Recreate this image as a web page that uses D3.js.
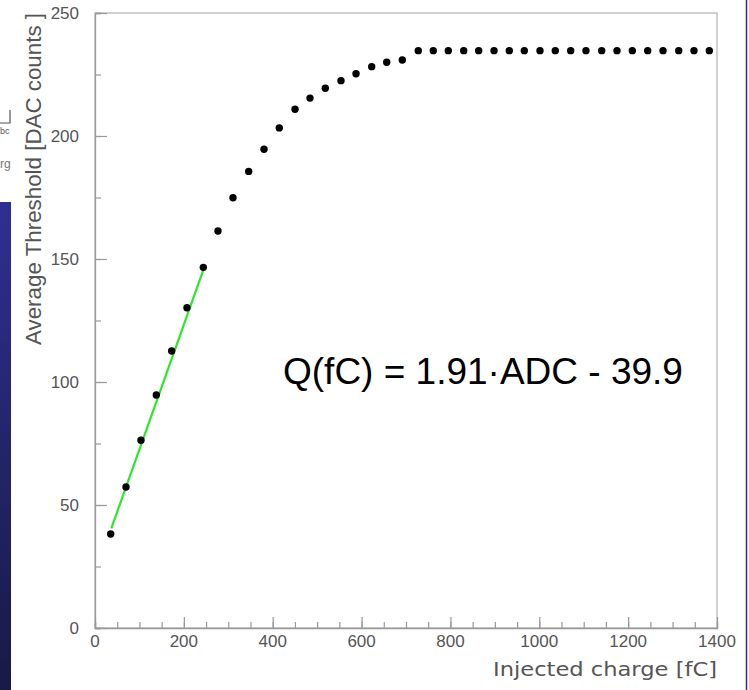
<!DOCTYPE html>
<html>
<head>
<meta charset="utf-8">
<script src="https://cdn.jsdelivr.net/npm/d3@7"></script>
<style>
  body { margin: 0; background: #fff; }
  svg { display: block; }
</style>
</head>
<body>
<div id="visual"></div>
<script>
// injected charge (fC) and average threshold (DAC counts)
let charge = [35.3, 69.8, 103.5, 138, 172.6, 207, 243.8, 276.8, 310.6, 345.9,
  380.4, 414.8, 450.2, 483.9, 518.4, 553.7, 587.5, 622.8, 656.6, 691.7,
  727.7, 761.4, 795.2, 829.9, 863.6, 898.1, 932.5, 966.3, 1001.6, 1036,
  1070.7, 1105.1, 1140.5, 1174.9, 1209.4, 1244, 1278.5, 1313.8, 1348.2, 1382.7]
let threshold = [38.2, 57.3, 76.3, 94.7, 112.6, 130.2, 146.6, 161.4, 174.9, 185.6,
  194.6, 203.3, 210.9, 215.4, 219.4, 222.5, 225.3, 228.2, 230.0, 230.9,
  234.7, 234.7, 234.7, 234.7, 234.7, 234.7, 234.7, 234.7, 234.7, 234.7,
  234.7, 234.7, 234.7, 234.7, 234.7, 234.7, 234.7, 234.7, 234.7, 234.7]

// linear fit line ends
let fitCharge = [36.7, 245.3]
let fitThreshold = [40.5, 146.3]

let xTicks = [0, 200, 400, 600, 800, 1000, 1200, 1400]
let yTicks = [0, 50, 100, 150, 200, 250]

let fitLabel = "Q(fC) = 1.91\u00b7ADC - 39.9"
let xTitle = "Injected charge [fC]"
let yTitle = "Average Threshold [DAC counts ]"

let dataset = charge.map((c, i) => ({ charge: c, threshold: threshold[i] }))

const width = 749, height = 690
const plot = { left: 95, right: 717, top: 13, bottom: 628 }

let scaleX = d3.scaleLinear().domain([0, 1400]).range([plot.left, plot.right])
let scaleY = d3.scaleLinear().domain([0, 250]).range([plot.bottom, plot.top])

const visual = d3.select("#visual")
  .append("svg")
  .attr("width", width)
  .attr("height", height)

// bits of the slide behind the plot
let grad = visual.append("defs").append("linearGradient")
  .attr("id", "side").attr("x1", 0).attr("y1", 0).attr("x2", 0).attr("y2", 1)
grad.append("stop").attr("offset", "0%").attr("stop-color", "#2f2f92")
grad.append("stop").attr("offset", "100%").attr("stop-color", "#191946")

visual.append("rect")
  .attr("x", 0).attr("y", 202).attr("width", 11).attr("height", height - 202)
  .attr("fill", "url(#side)")

visual.append("line")
  .attr("x1", 746.5).attr("x2", 746.5).attr("y1", 0).attr("y2", height)
  .attr("stroke", "#2a2a96").attr("stroke-width", 1.5)

visual.append("path")
  .attr("d", "M0,123 H10 V110")
  .attr("fill", "none").attr("stroke", "#555").attr("stroke-width", 1.2)
visual.append("text")
  .attr("x", 0).attr("y", 134)
  .attr("font-family", "Liberation Sans").attr("font-size", 9).attr("fill", "#555")
  .text("bc")
visual.append("text")
  .attr("x", 0).attr("y", 168)
  .attr("font-family", "Liberation Sans").attr("font-size", 12).attr("fill", "#777")
  .text("rg")

// frame
visual.append("rect")
  .attr("x", plot.left).attr("y", plot.top)
  .attr("width", plot.right - plot.left).attr("height", plot.bottom - plot.top)
  .attr("fill", "none").attr("stroke", "#bbb").attr("stroke-width", 1.3)

// y axis, ticks point inwards
visual.append("g")
  .attr("transform", "translate(" + plot.left + ",0)")
  .call(d3.axisRight(scaleY).tickValues(d3.range(0, 251, 25)).tickSize(6).tickFormat(""))
  .call(g => g.selectAll("line").attr("stroke", "#999").attr("stroke-width", 1.2))
  .call(g => g.select(".domain").attr("stroke", "#999").attr("stroke-width", 1.3))

visual.append("g")
  .attr("transform", "translate(" + plot.left + ",0)")
  .call(d3.axisRight(scaleY).tickValues(yTicks).tickSize(12).tickFormat(""))
  .call(g => g.selectAll("line").attr("stroke", "#999").attr("stroke-width", 1.2))
  .call(g => g.select(".domain").remove())

visual.append("g")
  .selectAll("text")
  .data(yTicks)
  .enter()
  .append("text")
  .attr("x", 79)
  .attr("y", d => scaleY(d))
  .attr("dy", "0.36em")
  .attr("text-anchor", "end")
  .attr("font-family", "Liberation Sans")
  .attr("font-size", 17)
  .attr("fill", "#555")
  .text(d => d)

// x axis
visual.append("g")
  .attr("transform", "translate(0," + plot.bottom + ")")
  .call(d3.axisTop(scaleX).tickValues(d3.range(0, 1401, 50)).tickSize(6).tickFormat(""))
  .call(g => g.selectAll("line").attr("stroke", "#999").attr("stroke-width", 1.2))
  .call(g => g.select(".domain").attr("stroke", "#999").attr("stroke-width", 1.3))

visual.append("g")
  .attr("transform", "translate(0," + plot.bottom + ")")
  .call(d3.axisTop(scaleX).tickValues(xTicks).tickSize(11).tickFormat(""))
  .call(g => g.selectAll("line").attr("stroke", "#999").attr("stroke-width", 1.2))
  .call(g => g.select(".domain").remove())

visual.append("g")
  .selectAll("text")
  .data(xTicks)
  .enter()
  .append("text")
  .attr("x", d => scaleX(d))
  .attr("y", 647)
  .attr("text-anchor", "middle")
  .attr("font-family", "Liberation Sans")
  .attr("font-size", 17)
  .attr("fill", "#555")
  .text(d => d)

// titles
visual.append("text")
  .attr("x", plot.right)
  .attr("y", 676)
  .attr("text-anchor", "end")
  .attr("font-family", "DejaVu Sans")
  .attr("font-size", 20)
  .attr("fill", "#555")
  .attr("textLength", 224)
  .attr("lengthAdjust", "spacingAndGlyphs")
  .text(xTitle)

visual.append("text")
  .attr("transform", "translate(41," + plot.top + ") rotate(-90)")
  .attr("text-anchor", "end")
  .attr("font-family", "Liberation Sans")
  .attr("font-size", 22)
  .attr("fill", "#555")
  .attr("textLength", 332)
  .attr("lengthAdjust", "spacingAndGlyphs")
  .text(yTitle)

// fit line
let fitLine = d3.line()
  .x(d => scaleX(d[0]))
  .y(d => scaleY(d[1]))

visual.append("path")
  .datum(d3.zip(fitCharge, fitThreshold))
  .attr("d", fitLine)
  .attr("fill", "none")
  .attr("stroke", "#2ee62e")
  .attr("stroke-width", 2.2)

// points
visual.append("g")
  .selectAll("circle")
  .data(dataset)
  .enter()
  .append("circle")
  .attr("cx", d => scaleX(d.charge))
  .attr("cy", d => scaleY(d.threshold))
  .attr("r", 3.7)
  .attr("fill", "#000")

visual.append("text")
  .attr("x", 283)
  .attr("y", 384)
  .attr("font-family", "Liberation Sans")
  .attr("font-size", 37)
  .attr("fill", "#000")
  .text(fitLabel)
</script>
</body>
</html>
